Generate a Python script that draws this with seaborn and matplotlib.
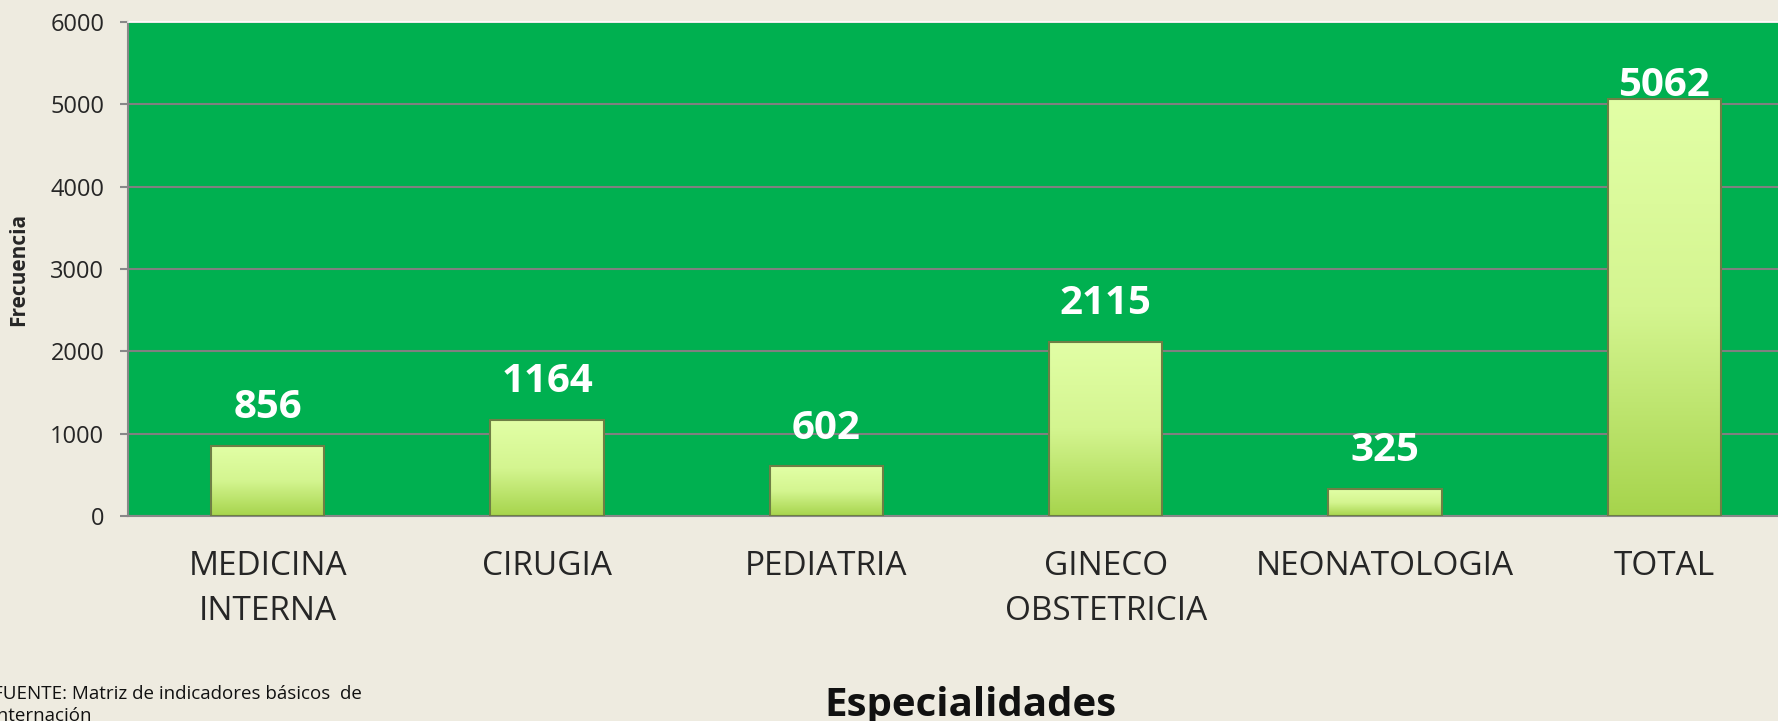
import matplotlib.pyplot as plt
import numpy as np
import pandas as pd
import seaborn as sns
from matplotlib.colors import LinearSegmentedColormap

especialidades = ['MEDICINA\nINTERNA', 'CIRUGIA', 'PEDIATRIA', 'GINECO\nOBSTETRICIA',
                  'NEONATOLOGIA', 'TOTAL']
frecuencia = [856, 1164, 602, 2115, 325, 5062]
yticks = [0, 1000, 2000, 3000, 4000, 5000, 6000]

df = pd.DataFrame({'Especialidad': especialidades, 'Frecuencia': frecuencia})

sns.set_style('white')
plt.rcParams['font.family'] = ['Open Sans', 'DejaVu Sans']

bg = '#EEEBE0'
W, H = 1778, 721
fig = plt.figure(figsize=(W / 100, H / 100), dpi=100, facecolor=bg)
# plot area runs past the right edge, as in the reference
ax = fig.add_axes([128 / W, (H - 516) / H, 1676 / W, 494 / H])
ax.set_facecolor('#00B050')

sns.barplot(data=df, x='Especialidad', y='Frecuencia', color='#C8EE80',
            width=0.405, edgecolor='#7A8C50', linewidth=1.2, ax=ax, zorder=3)

# gradient fill on each bar
cmap = LinearSegmentedColormap.from_list('g', ['#A6D44C', '#D4F590', '#E2FFA6'])
grad = np.linspace(0, 1, 256).reshape(-1, 1)
for p in ax.patches:
    x0, y0, w, h = p.get_x(), p.get_y(), p.get_width(), p.get_height()
    im = ax.imshow(grad, extent=[x0, x0 + w, y0, y0 + h], origin='lower',
                   cmap=cmap, aspect='auto', zorder=3.5)
    im.set_clip_path(p)
    ax.add_patch(plt.Rectangle((x0, y0), w, h, fill=False, edgecolor='#6E7F45',
                               linewidth=1.5, zorder=4))

for i, v in enumerate(frecuencia):
    off = 2 if i == len(frecuencia) - 1 else 20
    ax.annotate(str(v), (i, v), xytext=(0, off), textcoords='offset points',
                ha='center', va='baseline', color='white', fontsize=29,
                fontweight='bold', zorder=5)

ax.set_ylim(0, 6000)
ax.set_xlim(-0.5, 5.5)
ax.set_yticks(yticks)
ax.grid(axis='y', color='#808080', linewidth=1.5, zorder=1)
ax.set_axisbelow(True)
ax.spines['right'].set_visible(False)
ax.spines['top'].set_color('white')
ax.spines['top'].set_linewidth(1.2)
ax.spines['left'].set_color('#888888')
ax.spines['bottom'].set_color('#888888')
ax.spines['left'].set_linewidth(1.5)
ax.spines['bottom'].set_linewidth(1.5)
ax.tick_params(axis='y', left=True, length=6, width=1.5, color='#888888',
               labelsize=17, pad=11)
ax.tick_params(axis='x', bottom=False, labelsize=24, pad=21)
for lbl in ax.get_xticklabels():
    lbl.set_linespacing(1.47)
ax.set_xlabel('')
ax.set_ylabel('Frecuencia', fontsize=15, fontweight='bold', labelpad=2)
ax.yaxis.set_label_coords(-0.059, 0.5)

fig.text(0.546, -0.005, 'Especialidades', ha='center', va='bottom', fontsize=29,
         fontweight='bold', color='#111111')
fig.text(-0.004, 0.05, 'FUENTE: Matriz de indicadores básicos  de\ninternación',
         ha='left', va='top', fontsize=13.5, color='#111111', linespacing=1.3)

fig.savefig('out.png', dpi=100, facecolor=bg)
